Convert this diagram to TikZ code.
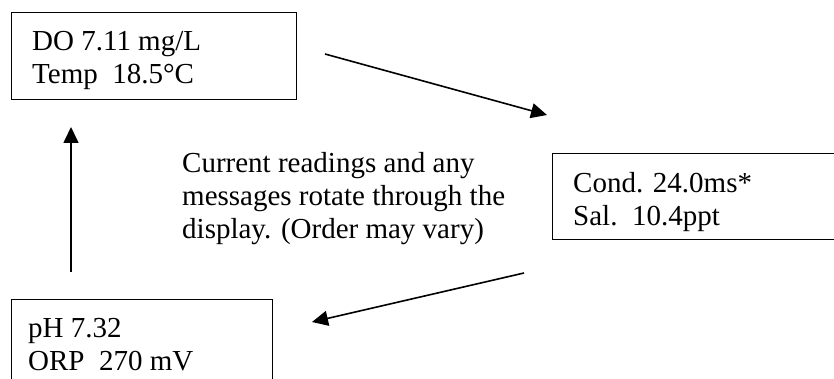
\documentclass[tikz,border=0pt]{standalone}
\usepackage{fontspec}
\setmainfont{Liberation Serif}
\usepackage{tikz}
\usetikzlibrary{arrows.meta,calc}
\tikzset{
  dispbox/.style={draw=black,line width=1.2pt,anchor=north west,inner sep=0pt,minimum width=#1,minimum height=87pt},
  readout/.style={anchor=north west,inner sep=0pt,align=left,font=\fontsize{29}{33}\selectfont},
  flowarrow/.style={-{Triangle[length=16pt,width=15pt]},line width=1.6pt,black}
}

\begin{document}
\begin{tikzpicture}[x=1pt,y=1pt]
\useasboundingbox (0,0) rectangle (834,-379);
\clip (0,0) rectangle (834,-379);
% display boxes
\node[dispbox=285pt] (dobox) at (11,-12) {};
\node[dispbox=360pt,minimum height=86pt] (condbox) at (552,-153) {};
\node[dispbox=261pt] (phbox) at (11,-299) {};
\node[readout] (dotext) at ($(dobox.north west)+(21,-14.9)$) {\strut DO 7.11 mg/L\\Temp~~18.5°C};
\node[readout] (condtext) at ($(condbox.north west)+(21,-15.9)$) {\strut Cond. 24.0ms*\\Sal.~~10.4ppt};
\node[readout] (phtext) at ($(phbox.north west)+(17,-14.9)$) {\strut pH 7.32\\ORP~~270 mV};
\node[readout] (note) at (182,-148.9) {\strut Current readings and any\\messages rotate through the\\display. (Order may vary)};
% rotation arrows
\coordinate (a1s) at (325,-54);
\coordinate (a1e) at (547,-115);
\coordinate (a2s) at (524,-273);
\coordinate (a2e) at (312,-322);
\coordinate (a3s) at (71,-272);
\coordinate (a3e) at (71,-127);
\draw[flowarrow] (a1s)--(a1e);
\draw[flowarrow] (a2s)--(a2e);
\draw[flowarrow] (a3s)--(a3e);
\end{tikzpicture}
\end{document}
